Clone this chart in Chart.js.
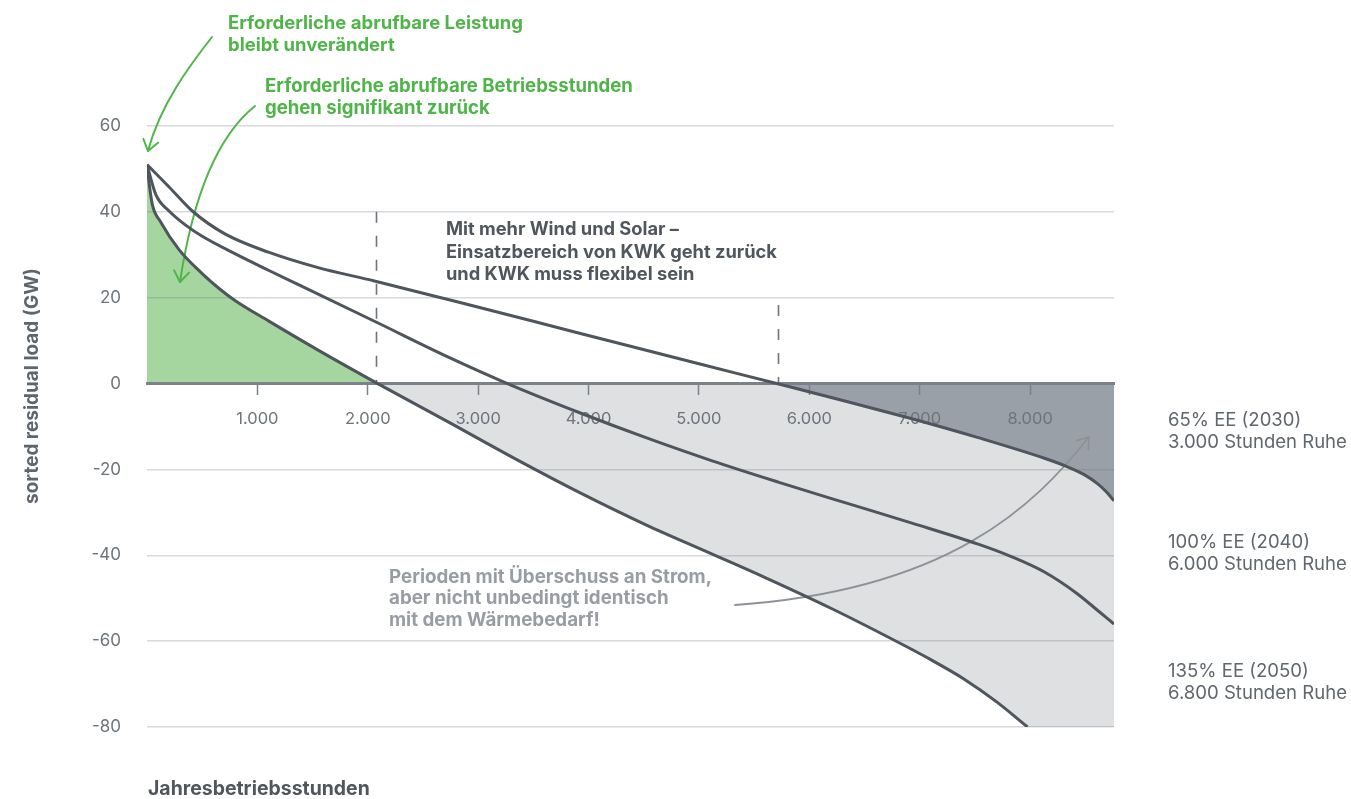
<!DOCTYPE html>
<html lang="de">
<head>
<meta charset="utf-8">
<title>Sortierte Residuallast</title>
<script src="https://cdn.jsdelivr.net/npm/chart.js@4.4.1/dist/chart.umd.min.js"></script>
<style>
  html, body { margin: 0; padding: 0; background: #fff; }
  #wrap { position: relative; width: 1351px; height: 799px; }
</style>
</head>
<body>
<div id="wrap"><canvas id="chart"></canvas></div>
<script>
// --- Werte ---
const xTicks = [1000, 2000, 3000, 4000, 5000, 6000, 7000, 8000];
const yTicks = [-80, -60, -40, -20, 0, 20, 40, 60];

// 65% EE (2030)
const hours2030 = [0, 200, 410, 710, 1100, 1550, 2060, 2800, 3500, 4300, 5000, 5705, 6330, 6930, 7530, 8130, 8340, 8490, 8610, 8690, 8760];
const load2030 = [51, 45.8, 40.2, 34.8, 30.6, 27.0, 23.9, 19.1, 14.5, 9.2, 4.6, 0, -4.1, -8.2, -12.6, -17.4, -19.4, -21.2, -23.3, -25.2, -27.3];

// 100% EE (2040)
const hours2040 = [0, 80, 200, 350, 500, 800, 1100, 1400, 2070, 2760, 3265, 3920, 4520, 5120, 5725, 6330, 6930, 7530, 7830, 8130, 8430, 8610, 8760];
const load2040 = [51, 44.0, 40.2, 36.9, 34.3, 30.2, 26.4, 22.7, 14.4, 5.8, 0, -6.8, -12.6, -18.0, -23.0, -27.8, -32.5, -37.4, -40.3, -43.9, -49.0, -52.8, -56.0];

// 135% EE (2050)
const hours2050 = [0, 25, 50, 125, 290, 500, 650, 800, 1100, 1550, 2090, 2720, 3320, 3920, 4520, 5100, 5600, 6200, 6800, 7100, 7400, 7700, 7977];
const load2050 = [51, 45.5, 41.5, 37.6, 31.2, 25.6, 22.2, 19.3, 14.6, 7.8, 0, -8.8, -17.3, -25.4, -32.9, -39.5, -45.2, -52.4, -60.2, -64.3, -68.8, -74.2, -80];

// grauer Bereich rechts unten, am Achsenminimum
const floorHours = [7955, 8760];
const floorLoad = [-80, -80];

// gestrichelte Markierungen (Stunde, oberes Ende in GW)
const markerHours = [2075, 5715];
const markerTop = [40, 18.3];

const FONT = '"Inter", "Open Sans", "Noto Sans", sans-serif';
const LINE = '#4f555d';
const GREEN = '#4fb548';
const LIGHT = '#dfe0e2';

function pts(xs, ys) {
  return xs.map((x, i) => ({ x: x, y: ys[i] }));
}

function fmtDe(v) {
  return String(v).replace(/\B(?=(\d{3})+(?!\d))/g, '.');
}

// Schriftgroesse so waehlen, dass eine Zeile die Breite aus der Vorlage hat
function fitSize(ctx, text, weight, target) {
  ctx.font = weight + ' 100px ' + FONT;
  return 100 * target / ctx.measureText(text).width;
}

const textBlocks = [
  { lines: ['Erforderliche abrufbare Leistung', 'bleibt unverändert'], x: 228, y: 23, lh: 22.5, color: GREEN, weight: 700, ref: 0, width: 295 },
  { lines: ['Erforderliche abrufbare Betriebsstunden', 'gehen signifikant zurück'], x: 265, y: 86, lh: 22.5, color: GREEN, weight: 700, ref: 0, width: 368 },
  { lines: ['Mit mehr Wind und Solar –', 'Einsatzbereich von KWK geht zurück', 'und KWK muss flexibel sein'], x: 446, y: 230, lh: 22.5, color: '#50565e', weight: 700, ref: 1, width: 331 },
  { lines: ['Perioden mit Überschuss an Strom,', 'aber nicht unbedingt identisch', 'mit dem Wärmebedarf!'], x: 389, y: 577, lh: 21.5, color: '#989da4', weight: 700, ref: 0, width: 323 },
  { lines: ['65% EE (2030)', '3.000 Stunden Ruhe'], x: 1168, y: 420, lh: 22.5, color: '#61676e', weight: 400, ref: 1, width: 179 },
  { lines: ['100% EE (2040)', '6.000 Stunden Ruhe'], x: 1168, y: 542, lh: 22.5, color: '#61676e', weight: 400, ref: 1, width: 179 },
  { lines: ['135% EE (2050)', '6.800 Stunden Ruhe'], x: 1168, y: 671, lh: 22.5, color: '#61676e', weight: 400, ref: 1, width: 179 },
  { lines: ['Jahresbetriebsstunden'], x: 148, y: 789, lh: 22, color: '#50565e', weight: 700, ref: 0, width: 222 }
];

function drawArrow(ctx, p, color, width, head) {
  ctx.save();
  ctx.strokeStyle = color;
  ctx.lineWidth = width;
  ctx.lineCap = 'round';
  ctx.lineJoin = 'round';
  ctx.beginPath();
  ctx.moveTo(p[0][0], p[0][1]);
  if (p.length === 3) {
    ctx.quadraticCurveTo(p[1][0], p[1][1], p[2][0], p[2][1]);
  } else {
    ctx.bezierCurveTo(p[1][0], p[1][1], p[2][0], p[2][1], p[3][0], p[3][1]);
  }
  ctx.stroke();
  const end = p[p.length - 1], prev = p[p.length - 2];
  const a = Math.atan2(end[1] - prev[1], end[0] - prev[0]);
  const spread = 0.62;
  ctx.beginPath();
  ctx.moveTo(end[0] - head * Math.cos(a - spread), end[1] - head * Math.sin(a - spread));
  ctx.lineTo(end[0], end[1]);
  ctx.lineTo(end[0] - head * Math.cos(a + spread), end[1] - head * Math.sin(a + spread));
  ctx.stroke();
  ctx.restore();
}

const overlay = {
  id: 'overlay',
  beforeDatasetsDraw(chart) {
    const { ctx, scales: { x, y } } = chart;
    ctx.save();
    ctx.setLineDash([11, 13]);
    ctx.lineWidth = 1.6;
    ctx.strokeStyle = '#6f757c';
    markerHours.forEach((h, i) => {
      const px = Math.round(x.getPixelForValue(h)) + 0.5;
      ctx.beginPath();
      ctx.moveTo(px, y.getPixelForValue(markerTop[i]));
      ctx.lineTo(px, y.getPixelForValue(0));
      ctx.stroke();
    });
    ctx.restore();

    drawArrow(ctx, [[212, 37], [190, 65], [160, 105], [148, 151]], GREEN, 2, 13);
    drawArrow(ctx, [[255, 106], [200, 150], [180, 282]], GREEN, 2, 13);
    drawArrow(ctx, [[735, 605], [950, 590], [1035, 505], [1089, 437]], '#8d9298', 1.8, 13);
  },
  afterDraw(chart) {
    const ctx = chart.ctx;
    ctx.save();
    ctx.textBaseline = 'middle';
    ctx.textAlign = 'left';
    textBlocks.forEach(b => {
      const size = fitSize(ctx, b.lines[b.ref], b.weight, b.width);
      ctx.font = b.weight + ' ' + size.toFixed(2) + 'px ' + FONT;
      ctx.fillStyle = b.color;
      b.lines.forEach((t, i) => ctx.fillText(t, b.x, b.y + i * b.lh));
    });
    // Achsentitel y
    const yTitle = 'sorted residual load (GW)';
    const ys = fitSize(ctx, yTitle, 700, 236);
    ctx.translate(32, 386);
    ctx.rotate(-Math.PI / 2);
    ctx.textAlign = 'center';
    ctx.font = '700 ' + ys.toFixed(2) + 'px ' + FONT;
    ctx.fillStyle = '#5f656c';
    ctx.fillText(yTitle, 0, 0);
    ctx.restore();
  }
};

new Chart(document.getElementById('chart'), {
  type: 'line',
  data: {
    datasets: [
      {
        label: '65% EE (2030)',
        data: pts(hours2030, load2030),
        borderColor: LINE,
        borderWidth: 3,
        pointRadius: 0,
        cubicInterpolationMode: 'monotone',
        fill: { target: 'origin', above: 'rgba(0,0,0,0)', below: '#9aa0a7' }
      },
      {
        label: '100% EE (2040)',
        data: pts(hours2040, load2040),
        borderColor: LINE,
        borderWidth: 3,
        pointRadius: 0,
        cubicInterpolationMode: 'monotone',
        fill: false
      },
      {
        label: '135% EE (2050)',
        data: pts(hours2050, load2050),
        borderColor: LINE,
        borderWidth: 3,
        pointRadius: 0,
        cubicInterpolationMode: 'monotone',
        fill: { target: 'origin', above: '#a6d69f', below: LIGHT }
      },
      {
        label: 'floor',
        data: pts(floorHours, floorLoad),
        borderWidth: 0,
        borderColor: 'rgba(0,0,0,0)',
        pointRadius: 0,
        fill: { target: 'origin', above: LIGHT, below: LIGHT }
      }
    ]
  },
  options: {
    responsive: true,
    maintainAspectRatio: false,
    animation: false,
    layout: { padding: { left: 77, right: 237, top: 126, bottom: 72 } },
    plugins: {
      legend: { display: false },
      tooltip: { enabled: false },
      filler: { drawTime: 'beforeDraw' }
    },
    scales: {
      x: {
        type: 'linear',
        min: 0,
        max: 8760,
        position: { y: 0 },
        afterBuildTicks: s => { s.ticks = xTicks.map(v => ({ value: v })); },
        border: { display: true, color: '#7b8189', width: 3 },
        grid: { drawOnChartArea: false, drawTicks: true, tickLength: 10, tickWidth: 1.5, tickColor: '#7b8189' },
        ticks: {
          color: '#6e747b',
          font: { family: FONT, size: 16.5, weight: 400 },
          padding: 16,
          maxRotation: 0,
          callback: v => fmtDe(v)
        }
      },
      y: {
        min: -80,
        max: 60,
        afterBuildTicks: s => { s.ticks = yTicks.map(v => ({ value: v })); },
        afterFit: s => { s.width = 70; },
        border: { display: false },
        grid: { color: 'rgba(110,118,128,0.28)', lineWidth: 1.5, drawTicks: false },
        ticks: {
          color: '#6e747b',
          font: { family: FONT, size: 17, weight: 400 },
          padding: 26,
          callback: v => String(v)
        }
      }
    }
  },
  plugins: [overlay]
});
</script>
</body>
</html>
